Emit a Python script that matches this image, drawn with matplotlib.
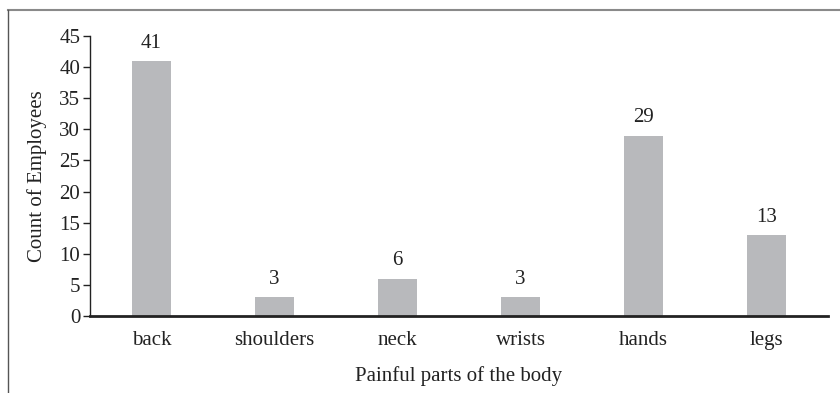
import matplotlib.pyplot as plt
from matplotlib.lines import Line2D

parts = ['back', 'shoulders', 'neck', 'wrists', 'hands', 'legs']
counts = [41, 3, 6, 3, 29, 13]
yticks = [0, 5, 10, 15, 20, 25, 30, 35, 40, 45]

plt.rcParams['font.family'] = ['Liberation Serif', 'DejaVu Serif']
plt.rcParams['font.size'] = 15

fig = plt.figure(figsize=(8.4, 3.93), dpi=100)
ax = fig.add_axes([90 / 840, 1 - 316 / 393, 738 / 840, 280 / 393])

x = range(len(parts))
bars = ax.bar(x, counts, width=0.32, color='#b8b9bc')
for b, v in zip(bars, counts):
    ax.annotate(str(v), (b.get_x() + b.get_width() / 2, v),
                xytext=(0, 6), textcoords='offset points',
                ha='center', va='bottom', color='#222222')

ax.set_xlim(-0.5, 5.5)
ax.set_ylim(0, 45)
ax.set_yticks(yticks)
ax.set_xticks(list(x))
ax.set_xticklabels(parts)
ax.tick_params(axis='x', length=0, pad=11, colors='#222222')
ax.tick_params(axis='y', length=5, width=1, direction='out', pad=2,
               colors='#222222')
for s in ['top', 'right']:
    ax.spines[s].set_visible(False)
ax.spines['left'].set_color('#222222')
ax.spines['bottom'].set_color('#222222')
ax.spines['bottom'].set_linewidth(2)
ax.spines['left'].set_linewidth(1)

ax.set_xlabel('Painful parts of the body', labelpad=11.5, color='#222222')
ax.set_ylabel('Count of Employees', labelpad=9, color='#222222')

# outer frame: top and left edge only
fig.add_artist(Line2D([7.5 / 840, 1], [1 - 9.5 / 393] * 2,
                      transform=fig.transFigure, color='#8a8a8a', lw=1.5))
fig.add_artist(Line2D([7.5 / 840] * 2, [0, 1 - 9.5 / 393],
                      transform=fig.transFigure, color='#555555', lw=1))

fig.savefig('out.png', dpi=100)
